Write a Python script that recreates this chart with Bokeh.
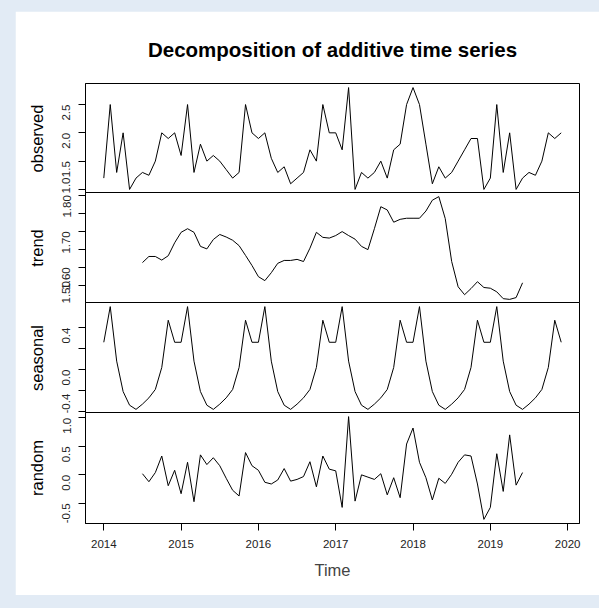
import math
import numpy as np
from bokeh.plotting import figure
from bokeh.layouts import column
from bokeh.models import Range1d, FixedTicker, NumeralTickFormatter
from bokeh.embed import file_html
from bokeh.resources import INLINE

# Monthly series, Jan 2014 - Dec 2019
start_year = 2014
observed = [
    1.2, 2.5, 1.3, 2.0, 1.0, 1.2, 1.3, 1.25, 1.5, 2.0, 1.9, 2.0,
    1.6, 2.5, 1.3, 1.8, 1.5, 1.6, 1.5, 1.35, 1.2, 1.3, 2.5, 2.0,
    1.9, 2.0, 1.55, 1.3, 1.4, 1.1, 1.2, 1.3, 1.7, 1.5, 2.5, 2.0,
    2.0, 1.7, 2.8, 1.0, 1.3, 1.2, 1.3, 1.5, 1.2, 1.7, 1.8, 2.5,
    2.8, 2.5, 1.8, 1.1, 1.4, 1.2, 1.3, 1.5, 1.7, 1.9, 1.9, 1.0,
    1.2, 2.5, 1.3, 2.0, 1.0, 1.2, 1.3, 1.25, 1.5, 2.0, 1.9, 2.0,
]
# seasonal figure, Jan..Dec
seasonal_pattern = [0.26, 0.60, 0.08, -0.21, -0.34, -0.38,
                    -0.33, -0.27, -0.19, 0.02, 0.47, 0.26]
# trend and remainder exist from Jul 2014 to Jun 2019 (month index 6..65)
trend_first = 6
trend = [
    1.613, 1.630, 1.630, 1.620, 1.632, 1.668,
    1.697, 1.707, 1.697, 1.658, 1.651, 1.677, 1.691, 1.684, 1.675, 1.660, 1.633, 1.605,
    1.574, 1.563, 1.585, 1.611, 1.619, 1.619, 1.622, 1.616, 1.653, 1.697, 1.683, 1.681,
    1.688, 1.699, 1.688, 1.678, 1.658, 1.649, 1.707, 1.768, 1.759, 1.725, 1.733, 1.736,
    1.736, 1.736, 1.756, 1.786, 1.796, 1.735, 1.616, 1.546, 1.524, 1.541, 1.560, 1.544,
    1.542, 1.532, 1.513, 1.511, 1.516, 1.557,
]
random = [
    0.02, -0.12, 0.04, 0.33, -0.19, 0.08,
    -0.33, 0.22, -0.47, 0.35, 0.18, 0.30, 0.16, -0.06, -0.27, -0.37, 0.39, 0.16,
    0.08, -0.13, -0.16, -0.09, 0.11, -0.11, -0.08, -0.03, 0.23, -0.21, 0.33, 0.10,
    0.07, -0.57, 1.02, -0.46, 0.00, -0.04, -0.08, 0.02, -0.35, -0.05, -0.40, 0.54,
    0.82, 0.22, -0.05, -0.44, -0.06, -0.15, 0.01, 0.22, 0.35, 0.33, -0.16, -0.78,
    -0.57, 0.37, -0.29, 0.70, -0.18, 0.04,
]
year_ticks = [2014, 2015, 2016, 2017, 2018, 2019, 2020]

n = len(observed)
t = start_year + np.arange(n) / 12.0
seasonal = [seasonal_pattern[i % 12] for i in range(n)]
t_inner = t[trend_first:trend_first + len(trend)]

FONT = "Liberation Sans"
FIG_W = 584
span = t[-1] - t[0]
x_range = Range1d(t[0] - 0.04 * span, t[-1] + 0.04 * span)


def padded(vals):
    lo, hi = min(vals), max(vals)
    d = 0.04 * (hi - lo)
    return Range1d(lo - d, hi + d)


def panel(label, x, y, height, ticks, minor, fmt, top=0, bottom=0, margin=(-1, 0, 0, 15)):
    p = figure(width=FIG_W, height=height, x_range=x_range, y_range=padded(y),
               output_backend="svg", toolbar_location=None,
               min_border_left=70, min_border_right=20,
               min_border_top=top, min_border_bottom=bottom,
               background_fill_color="white", border_fill_color="white",
               margin=margin)
    p.line(x, y, line_color="black", line_width=1)
    p.grid.visible = False
    p.outline_line_color = "black"
    p.outline_line_width = 1
    p.outline_line_alpha = 1.0
    ax = p.yaxis[0]
    ax.ticker = FixedTicker(ticks=ticks, minor_ticks=minor)
    ax.formatter = NumeralTickFormatter(format=fmt)
    ax.major_tick_out = 7
    ax.major_tick_in = 0
    ax.minor_tick_out = 7
    ax.minor_tick_in = 0
    ax.minor_tick_line_color = "black"
    ax.major_tick_line_color = "black"
    ax.axis_line_color = "black"
    ax.major_label_orientation = math.pi / 2
    ax.major_label_text_font = FONT
    ax.major_label_text_font_size = "11.5px"
    ax.major_label_text_color = "#222222"
    ax.major_label_standoff = 12
    ax.axis_label = label
    ax.axis_label_text_font = FONT
    ax.axis_label_text_font_size = "16.5px"
    ax.axis_label_text_font_style = "normal"
    ax.axis_label_text_color = "black"
    ax.axis_label_standoff = 10
    p.xaxis.visible = False
    return p


p_obs = panel("observed", t, observed, 182, [1.0, 1.5, 2.0, 2.5], [], "0.0",
              top=72, margin=(11, 0, 0, 15))
p_obs.title.text = "Decomposition of additive time series"
p_obs.title.text_font = FONT
p_obs.title.text_font_size = "20.5px"
p_obs.title.text_font_style = "bold"
p_obs.title.text_color = "black"
p_obs.title.align = "center"
p_obs.title.standoff = 45

p_trend = panel("trend", t_inner, trend, 111, [1.50, 1.60, 1.70, 1.80],
                [1.55, 1.65, 1.75], "0.00")
p_seas = panel("seasonal", t, seasonal, 111, [-0.4, 0.0, 0.4], [-0.2, 0.2], "0.0")
p_rand = panel("random", t_inner, random, 183, [-0.5, 0.0, 0.5, 1.0], [], "0.0",
               bottom=72, margin=(-1, 0, 13, 15))

xa = p_rand.xaxis[0]
xa.visible = True
xa.ticker = FixedTicker(ticks=year_ticks, minor_ticks=[])
xa.formatter = NumeralTickFormatter(format="0")
xa.major_tick_out = 7
xa.major_tick_in = 0
xa.major_tick_line_color = "black"
xa.axis_line_color = "black"
xa.major_label_text_font = FONT
xa.major_label_text_font_size = "11.5px"
xa.major_label_text_color = "#222222"
xa.major_label_standoff = 9
xa.axis_label = "Time"
xa.axis_label_text_font = FONT
xa.axis_label_text_font_size = "16.5px"
xa.axis_label_text_font_style = "normal"
xa.axis_label_standoff = 10

layout = column(p_obs, p_trend, p_seas, p_rand, spacing=0,
                styles={"background-color": "#e2ebf5"})

open("out.html", "w").write(file_html(layout, INLINE))
